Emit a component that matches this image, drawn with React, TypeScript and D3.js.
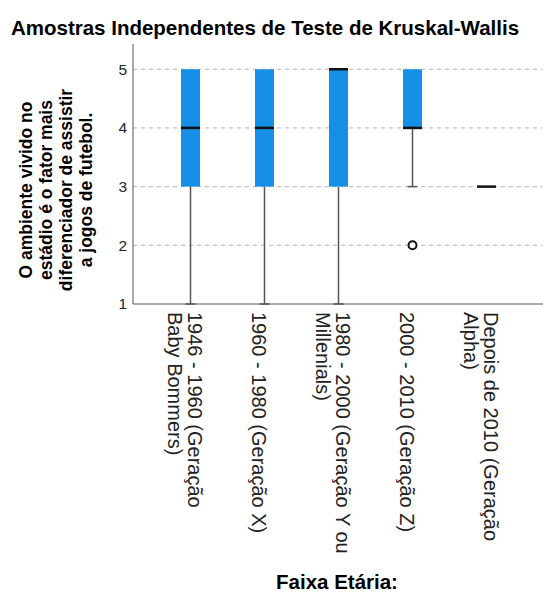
import React, { useEffect, useRef } from 'react';
import * as d3 from 'd3';

const categories = [
  ['1946 - 1960 (Geração', 'Baby Bommers)'],
  ['1960 - 1980 (Geração X)'],
  ['1980 - 2000 (Geração Y ou', 'Millenials)'],
  ['2000 - 2010 (Geração Z)'],
  ['Depois de 2010 (Geração', 'Alpha)'],
];
const q1 = [3, 3, 3, 4, 3];
const median = [4, 4, 5, 4, 3];
const q3 = [5, 5, 5, 5, 3];
const whiskerLow = [1, 1, 1, 3, 3];
const whiskerHigh = [5, 5, 5, 5, 3];
const outliers = [[], [], [], [2], []];
const yTicks = [1, 2, 3, 4, 5];
const yTitle = ['O ambiente vivido no', 'estádio é o fator mais', 'diferenciador de assistir', 'a jogos de futebol.'];

const FONT = '"Liberation Sans", Arial, sans-serif';

const App = () => {
  const svgRef = useRef(null);

  useEffect(() => {
    const svg = d3.select(svgRef.current);
    svg.selectAll('*').remove();

    const left = 133, right = 540, top = 44, bottom = 304;
    const ids = categories.map((_, i) => i);

    const x = d3.scalePoint().domain(ids).range([left + 2, right + 2]).padding(0.75);
    const y = d3.scaleLinear().domain([1, 5.43]).range([bottom, top]);
    const boxW = 19;

    svg.append('text')
      .attr('x', 265).attr('y', 35)
      .attr('text-anchor', 'middle')
      .attr('font-family', FONT).attr('font-size', 20.5).attr('font-weight', 'bold')
      .attr('fill', '#000')
      .text('Amostras Independentes de Teste de Kruskal-Wallis');

    // grid
    svg.append('g').selectAll('line')
      .data(yTicks.filter(t => t > 1))
      .enter().append('line')
      .attr('x1', left).attr('x2', right + 3)
      .attr('y1', d => y(d)).attr('y2', d => y(d))
      .attr('stroke', '#b8b8b8').attr('stroke-dasharray', '4,4');

    // y tick labels
    svg.append('g').selectAll('text')
      .data(yTicks)
      .enter().append('text')
      .attr('x', 127).attr('y', d => y(d))
      .attr('dy', '0.35em')
      .attr('text-anchor', 'end')
      .attr('font-family', FONT).attr('font-size', 15.5).attr('fill', '#222')
      .text(d => d);

    // axes
    svg.append('line').attr('x1', left).attr('x2', left).attr('y1', top).attr('y2', bottom)
      .attr('stroke', '#555');
    svg.append('line').attr('x1', left).attr('x2', right + 3).attr('y1', bottom).attr('y2', bottom)
      .attr('stroke', '#555');

    const g = svg.append('g');
    ids.forEach(i => {
      const cx = x(i);
      if (whiskerLow[i] < q1[i]) {
        g.append('line').attr('x1', cx).attr('x2', cx)
          .attr('y1', y(q1[i])).attr('y2', y(whiskerLow[i]))
          .attr('stroke', '#555').attr('stroke-width', 1.5);
        g.append('line').attr('x1', cx - 5).attr('x2', cx + 5)
          .attr('y1', y(whiskerLow[i])).attr('y2', y(whiskerLow[i]))
          .attr('stroke', '#555').attr('stroke-width', 1.5);
      }
      if (whiskerHigh[i] > q3[i]) {
        g.append('line').attr('x1', cx).attr('x2', cx)
          .attr('y1', y(q3[i])).attr('y2', y(whiskerHigh[i]))
          .attr('stroke', '#555').attr('stroke-width', 1.5);
      }
      if (q3[i] > q1[i]) {
        g.append('rect')
          .attr('x', cx - boxW / 2).attr('width', boxW)
          .attr('y', y(q3[i])).attr('height', y(q1[i]) - y(q3[i]))
          .attr('fill', '#1690e6');
      }
      g.append('line').attr('x1', cx - boxW / 2).attr('x2', cx + boxW / 2)
        .attr('y1', y(median[i])).attr('y2', y(median[i]))
        .attr('stroke', '#111').attr('stroke-width', 2.5);
      outliers[i].forEach(o => {
        g.append('circle').attr('cx', cx).attr('cy', y(o)).attr('r', 4)
          .attr('fill', '#fff').attr('stroke', '#111').attr('stroke-width', 2);
      });
    });

    // x labels, rotated; first line sits on the right
    ids.forEach(i => {
      const lines = categories[i];
      const cx = x(i) - 6;
      const t = svg.append('text')
        .attr('transform', `translate(${cx},312) rotate(90)`)
        .attr('font-family', FONT).attr('font-size', 20).attr('fill', '#222')
        .attr('dominant-baseline', 'central');
      lines.forEach((ln, k) => {
        t.append('tspan').attr('x', 0)
          .attr('y', (k - (lines.length - 1) / 2) * 20)
          .text(ln);
      });
    });

    // y title
    const yt = svg.append('text')
      .attr('transform', 'translate(56,190) rotate(-90)')
      .attr('text-anchor', 'middle')
      .attr('font-family', FONT).attr('font-size', 17.5).attr('font-weight', 'bold')
      .attr('fill', '#000').attr('dominant-baseline', 'central');
    yTitle.forEach((ln, k) => {
      yt.append('tspan').attr('x', 0).attr('y', (k - (yTitle.length - 1) / 2) * 20.3).text(ln);
    });

    svg.append('text')
      .attr('x', 337).attr('y', 589)
      .attr('text-anchor', 'middle')
      .attr('font-family', FONT).attr('font-size', 20.5).attr('font-weight', 'bold')
      .attr('fill', '#000')
      .text('Faixa Etária:');
  }, []);

  return (
    <svg ref={svgRef} width={543} height={592}
      style={{ position: 'absolute', left: 0, top: 0, background: '#fff' }} />
  );
};

export default App;
